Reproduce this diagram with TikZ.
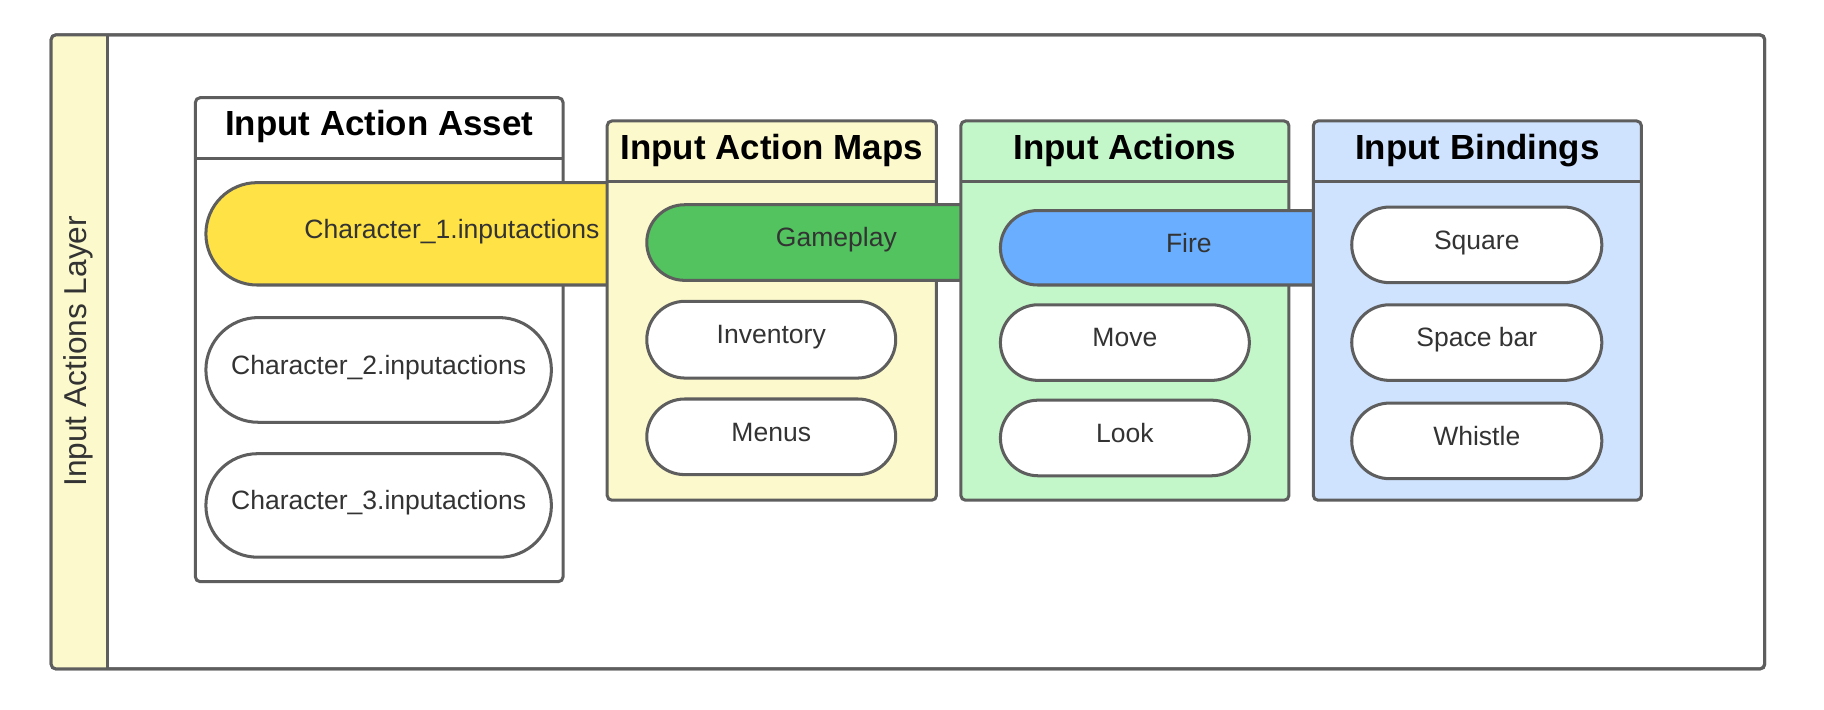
\documentclass[tikz,border=0pt]{standalone}
\usepackage{fontspec}
\setmainfont{Liberation Sans}
\usetikzlibrary{shapes.misc}

\definecolor{linegray}{HTML}{5E5E5E}
\definecolor{textgray}{HTML}{333333}
\definecolor{paleyellow}{HTML}{FCFACC}
\definecolor{palegreen}{HTML}{C3F6C8}
\definecolor{paleblue}{HTML}{CFE3FF}
\definecolor{assetyellow}{HTML}{FFE246}
\definecolor{mapgreen}{HTML}{52C35F}
\definecolor{actionblue}{HTML}{6AAEFF}

\begin{document}
\begin{tikzpicture}[x=1pt,y=-1pt]
    \tikzset{box/.style = {shape=rectangle,draw=linegray,line width=2.6pt,rounded corners=4pt,inner sep=0pt,outer sep=0pt,anchor=north west}}
    \tikzset{pill/.style = {shape=rounded rectangle,draw=linegray,line width=2.6pt,fill=white,inner sep=0pt,outer sep=0pt,text=textgray,text height=16pt,text depth=8.6pt,font=\fontsize{22.8}{26}\selectfont}}
    \tikzset{title/.style = {shape=rectangle,draw=none,inner sep=0pt,font=\bfseries\fontsize{30}{34}\selectfont}}
    \tikzset{edge/.style = {-,draw=linegray,line width=2.6pt}}

    \useasboundingbox (0,0) rectangle (1568,610);

    % layer frame
    \node[box,fill=white,minimum width=1473pt,minimum height=545pt] (layer) at (44,30) {};
    \fill[paleyellow] ([xshift=48pt]layer.north west) [rounded corners=4pt] -- (layer.north west) -- (layer.south west) [sharp corners] -- ([xshift=48pt]layer.south west) -- cycle;
    \draw[edge,rounded corners=4pt] (layer.north west) rectangle (layer.south east);
    \draw[edge] ([xshift=48pt]layer.north west) to ([xshift=48pt]layer.south west);
    \node[rotate=90,text=textgray,font=\fontsize{27.2}{30}\selectfont] (layerlbl) at (67,302) {Input Actions Layer};

    % asset
    \node[box,fill=white,minimum width=316pt,minimum height=416pt] (asset) at (168,84) {};
    \node[title] (assett) at (326,109) {Input Action Asset};
    \draw[edge] ([yshift=-52pt]asset.north west) to ([yshift=-52pt]asset.north east);
    \node[pill,fill=assetyellow,minimum width=423pt,minimum height=88pt] (char1) at (388.5,201) {Character\_1.inputactions};
    \node[pill,minimum width=297pt,minimum height=90pt] (char2) at (325.5,318) {Character\_2.inputactions};
    \node[pill,minimum width=297pt,minimum height=89pt] (char3) at (325.5,434.5) {Character\_3.inputactions};

    % maps
    \node[box,fill=paleyellow,minimum width=283pt,minimum height=326pt] (maps) at (522,104) {};
    \node[title] (mapst) at (663.5,129) {Input Action Maps};
    \draw[edge] ([yshift=-52pt]maps.north west) to ([yshift=-52pt]maps.north east);
    \node[pill,fill=mapgreen,minimum width=326pt,minimum height=65pt] (gameplay) at (719,208.5) {Gameplay};
    \node[pill,minimum width=214pt,minimum height=66pt] (inventory) at (663,292) {Inventory};
    \node[pill,minimum width=214pt,minimum height=65pt] (menus) at (663,375.5) {Menus};

    % actions
    \node[box,fill=palegreen,minimum width=282pt,minimum height=326pt] (actions) at (826,104) {};
    \node[title] (actionst) at (967,129) {Input Actions};
    \draw[edge] ([yshift=-52pt]actions.north west) to ([yshift=-52pt]actions.north east);
    \node[pill,fill=actionblue,minimum width=324pt,minimum height=64pt] (fire) at (1022,213) {Fire};
    \node[pill,minimum width=214pt,minimum height=65pt] (move) at (967,294.5) {Move};
    \node[pill,minimum width=214pt,minimum height=65pt] (look) at (967,376.5) {Look};

    % bindings
    \node[box,fill=paleblue,minimum width=282pt,minimum height=326pt] (bindings) at (1129,104) {};
    \node[title] (bindingst) at (1270,129) {Input Bindings};
    \draw[edge] ([yshift=-52pt]bindings.north west) to ([yshift=-52pt]bindings.north east);
    \node[pill,minimum width=215pt,minimum height=65pt] (square) at (1269.5,210.5) {Square};
    \node[pill,minimum width=215pt,minimum height=65pt] (spacebar) at (1269.5,294.5) {Space bar};
    \node[pill,minimum width=215pt,minimum height=65pt] (whistle) at (1269.5,379) {Whistle};
\end{tikzpicture}
\end{document}
